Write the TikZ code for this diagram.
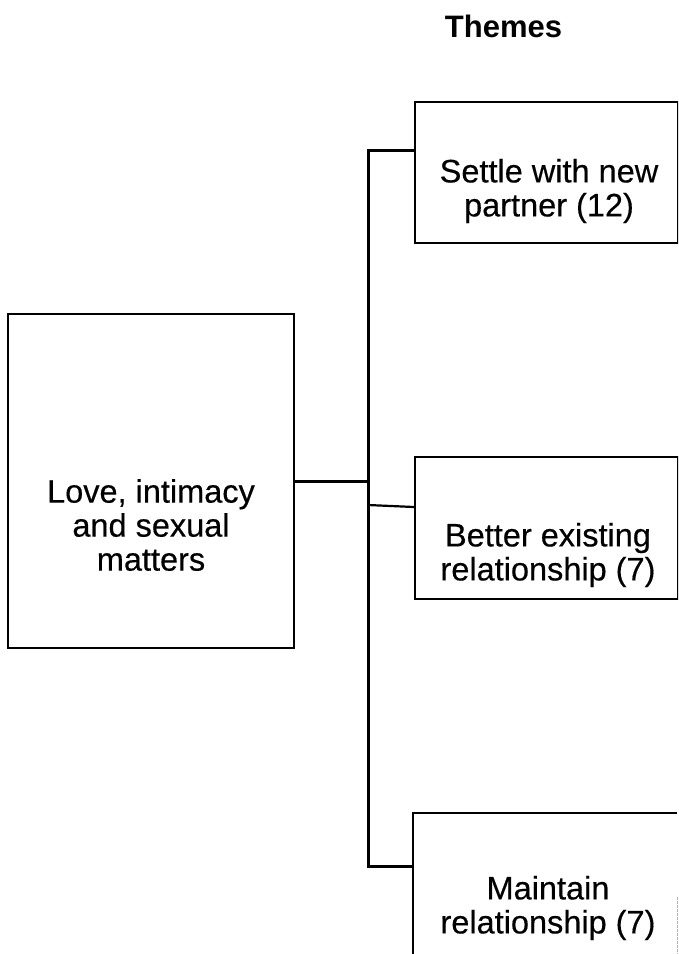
\documentclass[tikz,border=0pt]{standalone}
\usepackage{fontspec}
\setmainfont{Liberation Sans}
\newfontfamily\labelfont[FakeBold=0.4]{Liberation Sans}
\begin{document}
\begin{tikzpicture}[x=1pt,y=-1pt,
  box/.style={draw, line width=2.2pt, rectangle, inner sep=0pt},
  edge/.style={line width=2.2pt},
  conn/.style={line width=3pt, line join=miter},
  thinconn/.style={line width=2.2pt},
  faint/.style={line width=0.8pt, gray!60, dash pattern=on 3pt off 1pt},
  lbl/.style={align=center, font=\labelfont\fontsize{32.5}{34}\selectfont, inner sep=0pt},
  head/.style={font=\bfseries\fontsize{31}{33}\selectfont, inner sep=0pt, anchor=base}]
\useasboundingbox (0,0) rectangle (678,954);
\clip (0,0) rectangle (678,954);

% heading
\node[head] (hd) at (503.5,37) {Themes};

% boxes
\node[box, minimum width=286pt, minimum height=334pt] (root) at (151,481) {};
\node[box, minimum width=263pt, minimum height=141pt] (b1) at (546.5,172.5) {};
\node[box, minimum width=263pt, minimum height=142pt] (b2) at (546.5,528) {};
\node[minimum width=264pt, minimum height=200pt, inner sep=0pt] (b3) at (545,913) {};
\draw[edge] (b3.south west) -- (b3.north west) -- (b3.north east);
\draw[faint] (b3.east |- 0,897) -- (b3.south east);

% labels
\node[lbl] (tr) at (151,525) {Love, intimacy\\and sexual\\matters};
\node[lbl] (t1) at (549,191) {Settle with new\\partner (12)};
\node[lbl] (t2) at (548,555) {Better existing\\relationship (7)};
\node[lbl] (t3) at (548,908) {Maintain\\relationship (7)};

% connectors
\coordinate (jt) at (368,150);
\coordinate (jr) at (368,481);
\coordinate (jm) at (368,505);
\coordinate (jb) at (368,866);
\draw[conn] (b1.west |- jt) -- (jt) -- (jb) -- (b3.west |- jb);
\draw[conn] (root.east |- jr) -- (jr);
\draw[thinconn] (jm) -- (b2.west |- 0,507);
\end{tikzpicture}
\end{document}
